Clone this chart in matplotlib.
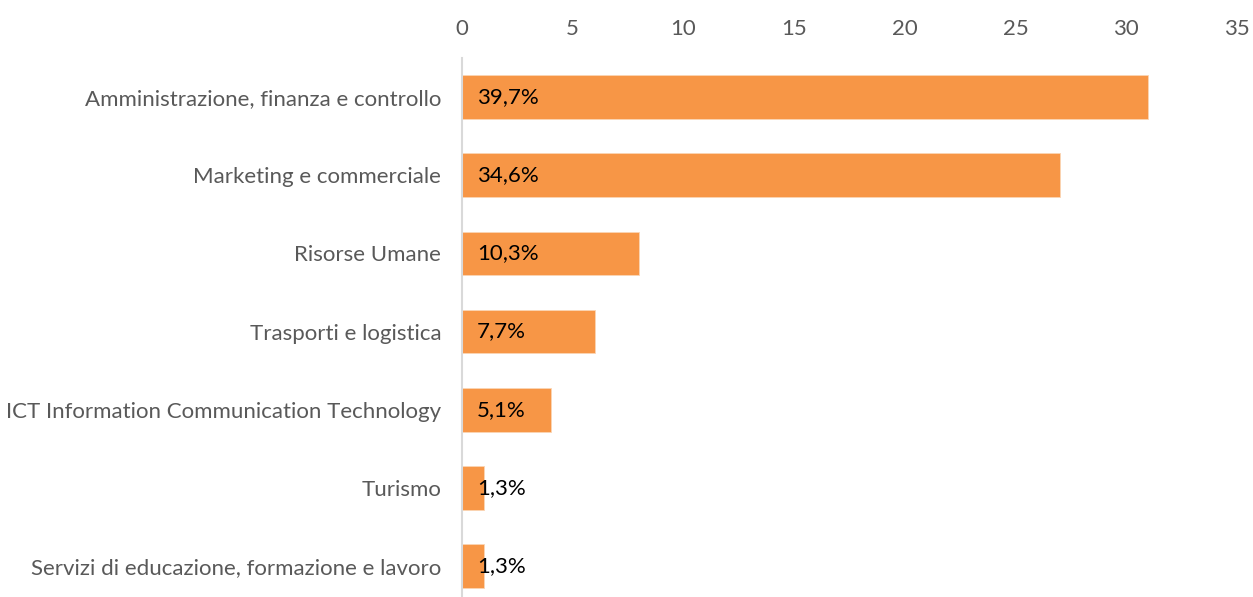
import matplotlib
matplotlib.use("Agg")
import matplotlib.pyplot as plt

categories = [
    "Amministrazione, finanza e controllo",
    "Marketing e commerciale",
    "Risorse Umane",
    "Trasporti e logistica",
    "ICT Information Communication Technology",
    "Turismo",
    "Servizi di educazione, formazione e lavoro",
]
values = [31, 27, 8, 6, 4, 1, 1]
pct_labels = ["39,7%", "34,6%", "10,3%", "7,7%", "5,1%", "1,3%", "1,3%"]
xticks = [0, 5, 10, 15, 20, 25, 30, 35]

plt.rcParams['font.family'] = ['Lato', 'DejaVu Sans']

W, H = 1253, 597
fig = plt.figure(figsize=(W / 100, H / 100), dpi=100)
ax = fig.add_axes([462 / W, 0, 775 / W, (597 - 58) / H])

ypos = list(range(len(categories)))
ax.barh(ypos, values, height=0.56, color="#F79646", edgecolor="#FBD5B5", linewidth=0.6)

ax.set_xlim(0, 35)
ax.set_ylim(6 + (597 - 566) / 78.2, -0.5)

ax.xaxis.tick_top()
ax.set_xticks(xticks)
ax.set_xticklabels([str(t) for t in xticks], fontsize=16, color="#595959")
ax.tick_params(axis="x", length=0, pad=14)
ax.set_yticks(ypos)
ax.set_yticklabels(categories, fontsize=16, color="#595959")
ax.tick_params(axis="y", length=0, pad=15)

for s in ["top", "right", "bottom"]:
    ax.spines[s].set_visible(False)
ax.spines["left"].set_color("#D9D9D9")
ax.spines["left"].set_linewidth(1.5)

for y, v, lab in zip(ypos, values, pct_labels):
    ax.annotate(lab, xy=(0, y), xytext=(15, 0), textcoords="offset pixels",
                ha="left", va="center", fontsize=16, color="black")

fig.savefig("out.png", dpi=100)
